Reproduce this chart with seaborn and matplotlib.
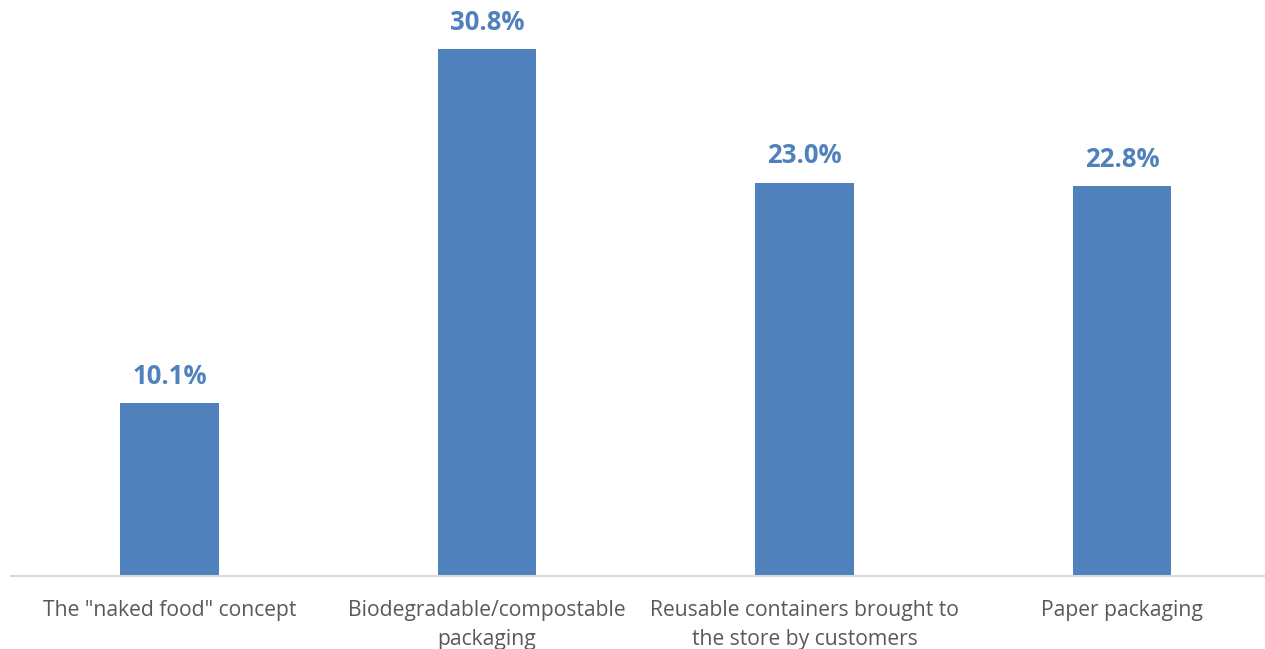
import matplotlib
matplotlib.use("Agg")
import matplotlib.pyplot as plt
import seaborn as sns
import pandas as pd

categories = [
    'The "naked food" concept',
    "Biodegradable/compostable\npackaging",
    "Reusable containers brought to\nthe store by customers",
    "Paper packaging",
]
shares = [10.1, 30.8, 23.0, 22.8]
value_labels = ["10.1%", "30.8%", "23.0%", "22.8%"]

BAR_BLUE = "#4F81BD"
TEXT_GREY = "#595959"
AXIS_GREY = "#D9D9D9"

sns.set_theme(style="white")
plt.rcParams["font.family"] = ["Open Sans", "DejaVu Sans"]

df = pd.DataFrame({"category": categories, "share": shares})

W, H = 1265, 649
fig = plt.figure(figsize=(W / 100, H / 100), dpi=100)
x0 = 10.75 / W
y0 = (H - 576) / H
ax = fig.add_axes([x0, y0, 1270 / W, 576 / H])

sns.barplot(data=df, x="category", y="share", color=BAR_BLUE, saturation=1,
            width=0.31, linewidth=0, ax=ax)

ax.set_xlim(-0.5, 3.5)
ax.set_ylim(0, 576 / 17.1)

for i, (v, lab) in enumerate(zip(shares, value_labels)):
    ax.annotate(lab, xy=(i, v), xytext=(0, 27), textcoords="offset pixels",
                ha="center", va="center", fontsize=18.5, fontweight="bold",
                color=BAR_BLUE)

ax.set_xlabel("")
ax.set_ylabel("")
ax.set_yticks([])
ax.tick_params(axis="x", length=0, pad=17, labelsize=15.2, labelcolor=TEXT_GREY)
for t in ax.get_xticklabels():
    t.set_linespacing(1.5)
    t.set_verticalalignment("top")

for s in ["top", "right", "left"]:
    ax.spines[s].set_visible(False)
ax.spines["bottom"].set_color(AXIS_GREY)
ax.spines["bottom"].set_linewidth(1.5)

fig.savefig("out.png", dpi=100)
